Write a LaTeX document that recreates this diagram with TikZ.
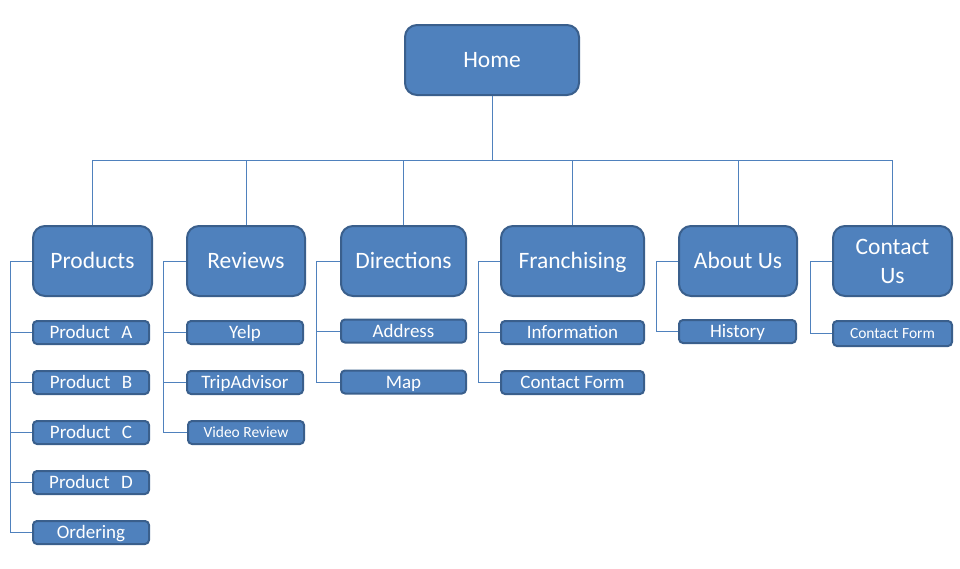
\documentclass[tikz,border=0pt]{standalone}
\usepackage{fontspec}
\setmainfont{Carlito}
\usepackage{xcolor}
\usepackage{tikz}
\usetikzlibrary{shapes, arrows.meta, positioning}
\definecolor{boxfill}{HTML}{4F81BD}
\definecolor{boxline}{HTML}{3A5F8C}
\definecolor{linkline}{HTML}{4F81BD}
\begin{document}
\begin{tikzpicture}
  [
    x=1pt, y=-1pt,
    Base/.style={rectangle, draw=boxline, fill=boxfill, line width=2pt, text=white, inner sep=0pt, align=center},
    Top/.style={Base, rounded corners=12pt, minimum height=70pt, text height=15pt, text depth=0pt, font=\fontsize{23.5}{29}\selectfont},
    Twoline/.style={Base, rounded corners=12pt, minimum height=70pt, font=\fontsize{23.5}{29}\selectfont},
    Section/.style={Twoline, text height=15pt, text depth=0pt},
    Leaf/.style={Base, rounded corners=4pt, minimum height=23pt, text height=12.2pt, text depth=0pt, font=\fontsize{19}{22}\selectfont},
    Small/.style={Leaf, text height=10pt, font=\fontsize{15.5}{18}\selectfont},
    Link/.style={draw=linkline, line width=1pt}
  ]
  \useasboundingbox (0,0) rectangle (960,568);
  % Nodes
  \node[Top, minimum width=174pt] (home) at (492, 60) {Home};
  \node[Section, minimum width=119pt] (products) at (92.5, 261) {Products};
  \node[Section, minimum width=118pt] (reviews) at (246, 261) {Reviews};
  \node[Section, minimum width=125pt] (directions) at (403.5, 261) {Directions};
  \node[Section, minimum width=143pt] (franchising) at (572.5, 261) {Franchising};
  \node[Section, minimum width=118pt] (about) at (738, 261) {About Us};
  \node[Twoline, minimum width=119pt] (contact) at (892.5, 261) {Contact\\Us};
  % Products
  \node[Leaf, minimum width=116pt] (prodA) at (91, 332.5) {Product\hspace{0.6em}A};
  \node[Leaf, minimum width=116pt] (prodB) at (91, 382.5) {Product\hspace{0.6em}B};
  \node[Leaf, minimum width=116pt] (prodC) at (91, 432.5) {Product\hspace{0.6em}C};
  \node[Leaf, minimum width=116pt] (prodD) at (91, 482.5) {Product\hspace{0.6em}D};
  \node[Leaf, minimum width=116pt] (ordering) at (91, 532.5) {Ordering};
  % Reviews
  \node[Leaf, minimum width=116pt] (yelp) at (245, 332.5) {Yelp};
  \node[Leaf, minimum width=116pt] (trip) at (245, 382.5) {TripAdvisor};
  \node[Small, minimum width=116pt] (video) at (246, 432.5) {Video Review};
  % Directions
  \node[Leaf, minimum width=125pt] (address) at (403.5, 331) {Address};
  \node[Leaf, minimum width=125pt] (map) at (403.5, 382) {Map};
  % Franchising
  \node[Leaf, minimum width=143pt] (info) at (572.5, 332.5) {Information};
  \node[Leaf, minimum width=143pt] (franform) at (572.5, 382.5) {Contact Form};
  % About Us / Contact Us
  \node[Leaf, minimum width=117pt] (history) at (737.5, 331.5) {History};
  \node[Small, minimum width=119pt, minimum height=25pt] (contform) at (892.5, 333.5) {Contact Form};
  % Corners
  \coordinate (bus) at (492, 160);
  \coordinate (prodS) at (10, 261);
  \coordinate (revS) at (163, 261);
  \coordinate (dirS) at (316, 261);
  \coordinate (franS) at (478, 261);
  \coordinate (aboutS) at (656, 261);
  \coordinate (contS) at (810, 261);
  % Lines
  \path [Link] (home) -- (bus);
  \path [Link] (bus) -| (products.north);
  \path [Link] (bus) -| (reviews.north);
  \path [Link] (bus) -| (directions.north);
  \path [Link] (bus) -| (franchising.north);
  \path [Link] (bus) -| (about.north);
  \path [Link] (bus) -| (contact.north);
  \path [Link] (products.west) -- (prodS) |- (ordering.west);
  \path [Link] (prodS) |- (prodA.west);
  \path [Link] (prodS) |- (prodB.west);
  \path [Link] (prodS) |- (prodC.west);
  \path [Link] (prodS) |- (prodD.west);
  \path [Link] (reviews.west) -- (revS) |- (video.west);
  \path [Link] (revS) |- (yelp.west);
  \path [Link] (revS) |- (trip.west);
  \path [Link] (directions.west) -- (dirS) |- (map.west);
  \path [Link] (dirS) |- (address.west);
  \path [Link] (franchising.west) -- (franS) |- (franform.west);
  \path [Link] (franS) |- (info.west);
  \path [Link] (about.west) -- (aboutS) |- (history.west);
  \path [Link] (contact.west) -- (contS) |- (contform.west);
\end{tikzpicture}
\end{document}
